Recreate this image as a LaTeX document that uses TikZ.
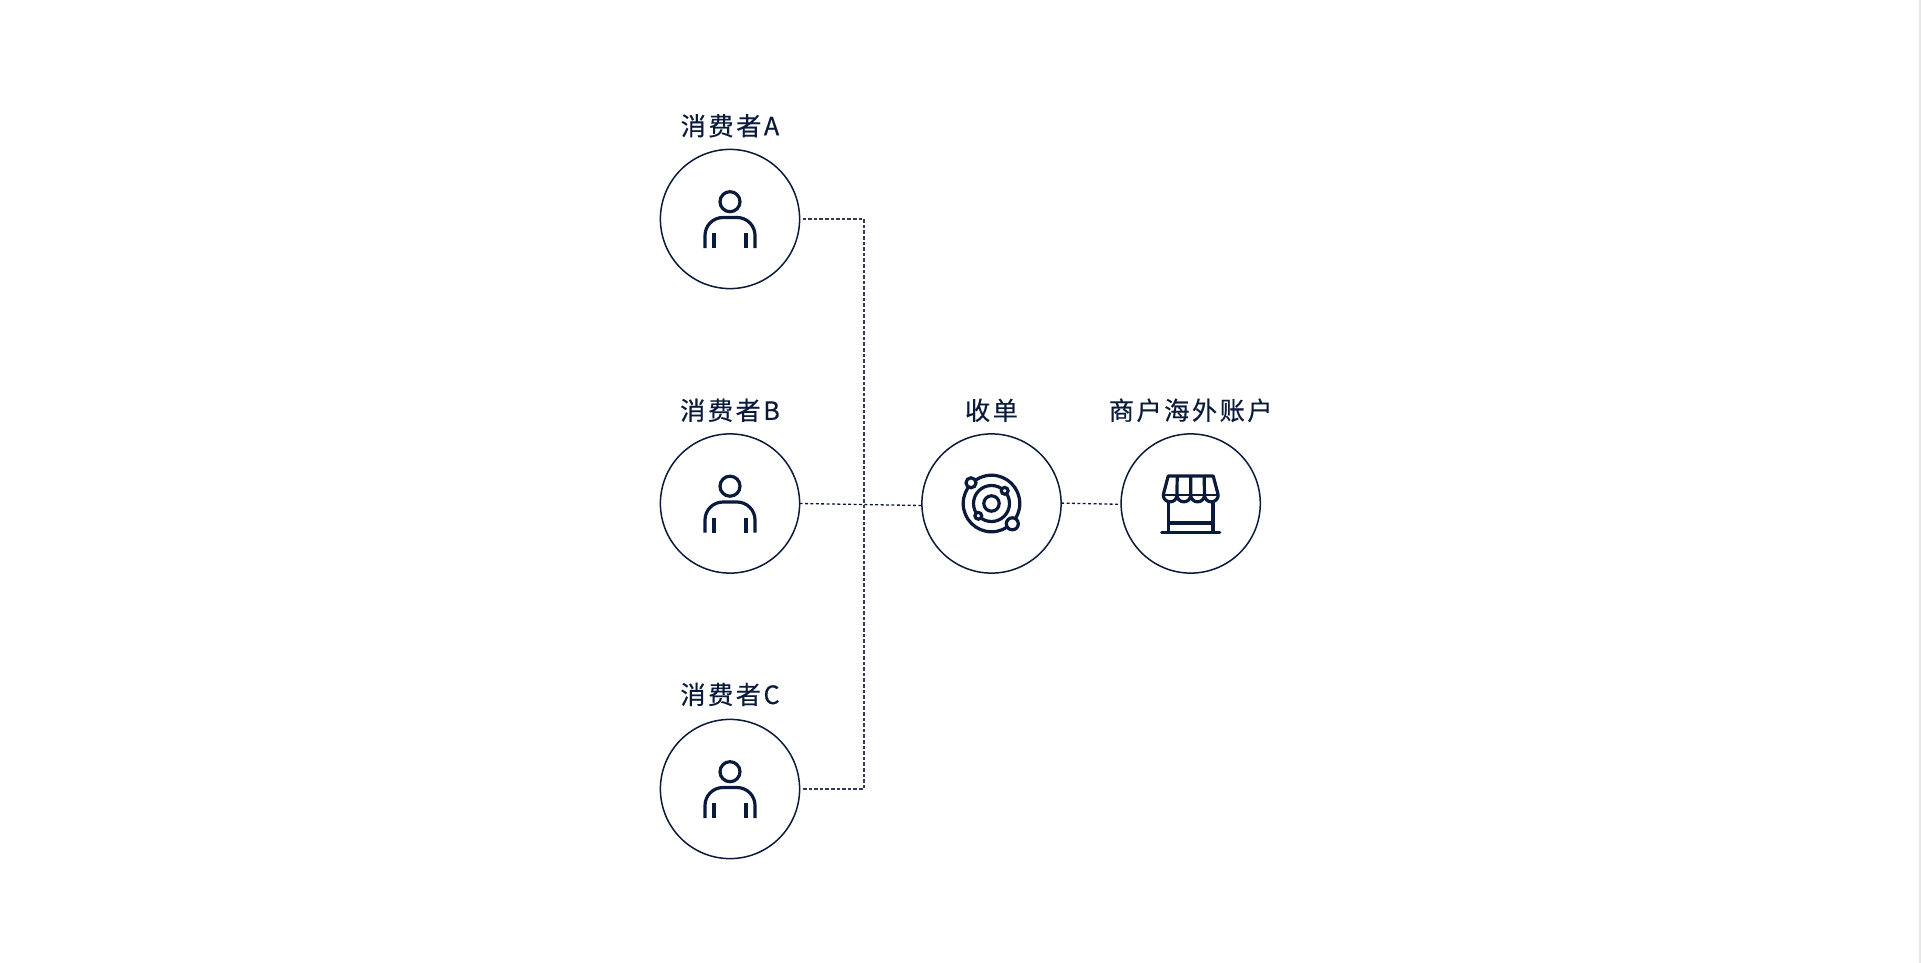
\documentclass[tikz,border=0pt]{standalone}
\usepackage{fontspec}
\setmainfont[LetterSpace=10,FakeBold=0.45]{Noto Sans CJK SC}
\definecolor{inkblue}{HTML}{0A1A3A}
\definecolor{linkblue}{HTML}{2E3A58}
\definecolor{edgegray}{HTML}{E6E6E6}
\tikzset{
  x=0.5pt,y=-0.5pt,
  party/.style={circle,draw=inkblue,line width=0.75pt,minimum size=69.6pt,inner sep=0pt,outer sep=0pt},
  caption/.style={text=inkblue,font=\fontsize{12.6pt}{14pt}\selectfont,inner sep=0pt},
  link/.style={draw=linkblue,line width=0.75pt,dash pattern=on 1.8pt off 1pt},
  thinlink/.style={draw=inkblue,line width=0.65pt,dash pattern=on 1.5pt off 1.2pt},
  icon/.style={draw=inkblue,line width=1.6pt},
  person/.pic={
    \draw[icon] (0,-17.3) circle (10);
    \draw[icon,rounded corners=9pt] (-25,29) -- (-25,-1.5) -- (25,-1.5) -- (25,29);
    \draw[icon] (-16,14) -- (-16,29) (16,14) -- (16,29);
  },
  orbit/.pic={
    \draw[icon] (0,0) circle (28.3) (0,0) circle (18) (0,0) circle (7.7);
    \draw[icon,fill=white] (-20.5,-20.7) circle (5) (20.8,20.3) circle (6)
      (13.2,-12.7) circle (3.4) (-13.2,12.3) circle (3.4);
  },
  shop/.pic={
    \draw[icon,line join=round] (-27.5,-8.5) -- (-22.5,-27.5) -- (22.5,-27.5) -- (27.5,-8.5);
    \draw[icon,line width=0.6pt] (-27.5,-8.5) -- (27.5,-8.5);
    \draw[icon,line join=round] (-27.5,-8.5) arc[start angle=180,end angle=360,radius=3.44pt]
      arc[start angle=180,end angle=360,radius=3.44pt]
      arc[start angle=180,end angle=360,radius=3.44pt]
      arc[start angle=180,end angle=360,radius=3.44pt];
    \draw[icon] (-13.5,-27.5) -- (-13.75,-8.5) (0,-27.5) -- (0,-8.5) (13.5,-27.5) -- (13.75,-8.5);
    \draw[icon] (-22.3,-2) -- (-22.3,28.5) (22.3,-2) -- (22.3,28.5);
    \draw[icon] (-22.3,19.5) -- (22.3,19.5);
    \draw[icon,line cap=round] (-29,29) -- (29,29);
  }
}

\begin{document}
\begin{tikzpicture}
  \useasboundingbox (0,0) rectangle (1921,963);
  \draw[edgegray,line width=0.7pt] (1920,0) -- (1920,963);

  \node[party] (consumerA) at (730,219) {};
  \node[party] (consumerB) [below of=consumerA,node distance=142.25pt] {};
  \node[party] (consumerC) [below of=consumerB,node distance=142.75pt] {};
  \node[party] (acquirer) [right of=consumerB,node distance=130.75pt] {};
  \node[party] (merchant) [right of=acquirer,node distance=99.6pt] {};

  \node[caption] (labelA) [above of=consumerA,node distance=46.6pt] {消费者A};
  \node[caption] (labelB) [above of=consumerB,node distance=46.6pt] {消费者B};
  \node[caption] (labelC) [above of=consumerC,node distance=47.3pt] {消费者C};
  \node[caption] (labelacq) [above of=acquirer,node distance=46.6pt] {收单};
  \node[caption] (labelmer) [above of=merchant,node distance=46.6pt] {商户海外账户};

  \pic at (consumerA) {person};
  \pic at (consumerB) {person};
  \pic at (consumerC) {person};
  \pic at (acquirer) {orbit};
  \pic at (merchant) {shop};

  \coordinate (cornerA) at (864,219);
  \coordinate (cornerC) at (864,789);
  \path[link]
  ([xshift=1.5pt]consumerA.east) -- (cornerA) -- (cornerC) -- ([xshift=1.5pt]consumerC.east)
  ;
  \path[thinlink]
  (consumerB.east) -- ([yshift=-1pt]acquirer.west)
  ([yshift=0.2pt]acquirer.east) -- ([yshift=-0.4pt,xshift=-0.5pt]merchant.west)
  ;
\end{tikzpicture}
\end{document}
